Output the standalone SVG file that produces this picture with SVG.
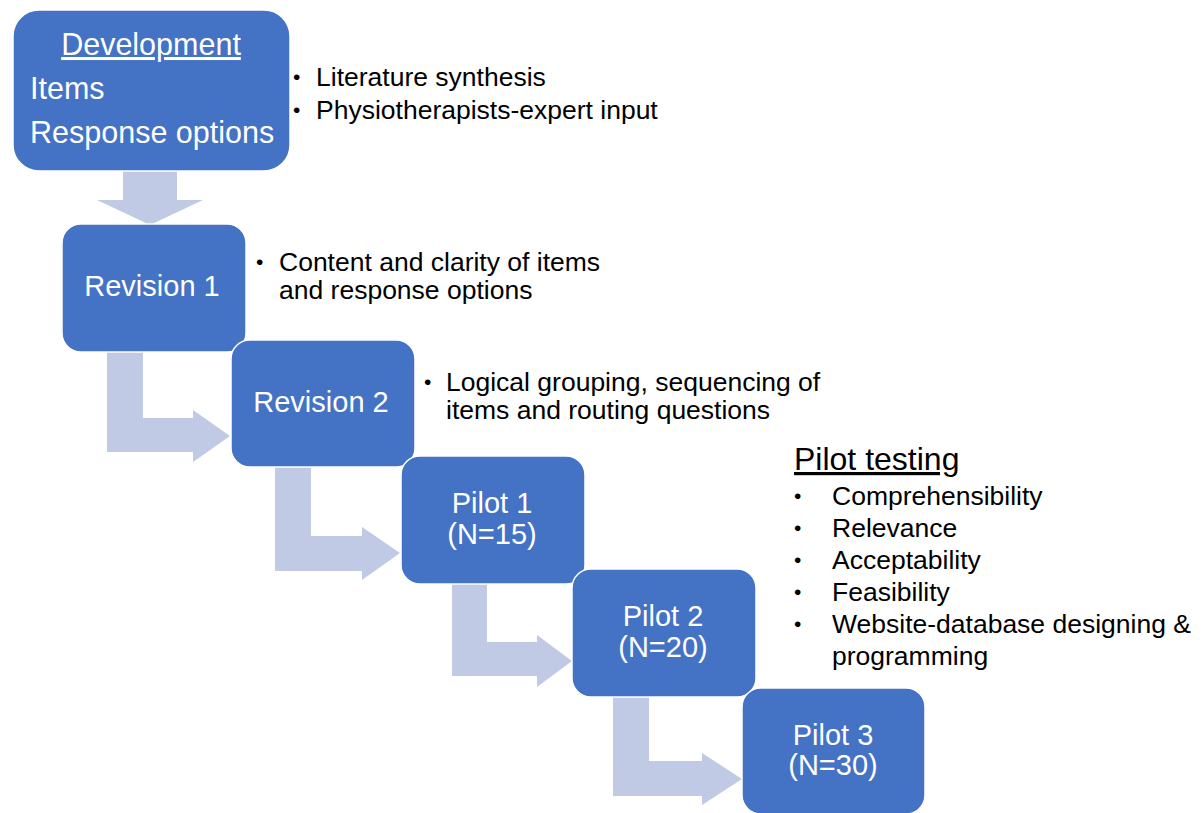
<svg xmlns="http://www.w3.org/2000/svg" width="1203" height="813" viewBox="0 0 1203 813">
<style>
.box{fill:#4472C4;stroke:#FFFFFF;stroke-width:1.5}
.arr{fill:#C0CAE4;stroke:none}
.bt{font-family:"Liberation Sans",Arial,sans-serif;font-size:29px;fill:#FFFFFF}
.dv{font-size:30.5px}
.c{text-anchor:middle}
.nt{font-family:"Liberation Sans",Arial,sans-serif;font-size:26.5px;fill:#000000}
.bu{font-family:"Liberation Sans",Arial,sans-serif;font-size:21px;fill:#000000}
.hd{font-family:"Liberation Sans",Arial,sans-serif;font-size:32px;fill:#000000;text-decoration:underline}
</style>
<rect width="1203" height="813" fill="#FFFFFF"/>
<g id="connectors">
<polygon class="arr" points="123,165 177,165 177,200 203,200 150,225 97,200 123,200"/>
<polygon class="arr" points="107,345 143,345 143,418 193,418 193,410 230,436 193,462 193,452 107,452"/>
<polygon class="arr" points="275,460 311,460 311,536 362,536 362,527 400,553 362,580 362,571 275,571"/>
<polygon class="arr" points="452,578 487,578 487,642 537,642 537,635 572,661 537,687 537,676 452,676"/>
<polygon class="arr" points="613,692 649,692 649,761 702,761 702,753 742,779 702,805 702,796 613,796"/>
</g>
<g id="development">
<rect class="box" x="13" y="10" width="277" height="161" rx="26"/>
<text class="bt dv c" x="151" y="55" style="text-decoration:underline">Development</text>
<text class="bt dv" x="30" y="99">Items</text>
<text class="bt dv" x="30" y="143">Response options</text>
</g>
<g id="development-notes">
<text class="bu" x="293" y="84">•</text>
<text class="nt" x="316" y="86">Literature synthesis</text>
<text class="bu" x="293" y="117">•</text>
<text class="nt" x="316" y="119">Physiotherapists-expert input</text>
</g>
<g id="revision1">
<rect class="box" x="62" y="224" width="184" height="128" rx="19"/>
<text class="bt c" x="152" y="296">Revision 1</text>
</g>
<g id="revision1-notes">
<text class="bu" x="256" y="269">•</text>
<text class="nt" x="279" y="271">Content and clarity of items</text>
<text class="nt" x="279" y="299">and response options</text>
</g>
<g id="revision2">
<rect class="box" x="231" y="340" width="184" height="127" rx="19"/>
<text class="bt c" x="321" y="412">Revision 2</text>
</g>
<g id="revision2-notes">
<text class="bu" x="424" y="389">•</text>
<text class="nt" x="446" y="391">Logical grouping, sequencing of</text>
<text class="nt" x="446" y="419">items and routing questions</text>
</g>
<g id="pilot1">
<rect class="box" x="401" y="456" width="184" height="128" rx="19"/>
<text class="bt c" x="492" y="513">Pilot 1</text>
<text class="bt c" x="492" y="544">(N=15)</text>
</g>
<g id="pilot2">
<rect class="box" x="572" y="569" width="184" height="128" rx="19"/>
<text class="bt c" x="663" y="626">Pilot 2</text>
<text class="bt c" x="663" y="657">(N=20)</text>
</g>
<g id="pilot3">
<rect class="box" x="742" y="688" width="183" height="126" rx="19"/>
<text class="bt c" x="833" y="745">Pilot 3</text>
<text class="bt c" x="833" y="775">(N=30)</text>
</g>
<g id="pilot-testing-notes">
<text class="hd" x="794" y="470">Pilot testing</text>
<text class="bu" x="794" y="503">•</text>
<text class="nt" x="832" y="505">Comprehensibility</text>
<text class="bu" x="794" y="535">•</text>
<text class="nt" x="832" y="537">Relevance</text>
<text class="bu" x="794" y="567">•</text>
<text class="nt" x="832" y="569">Acceptability</text>
<text class="bu" x="794" y="599">•</text>
<text class="nt" x="832" y="601">Feasibility</text>
<text class="bu" x="794" y="631">•</text>
<text class="nt" x="832" y="633">Website-database designing &amp;</text>
<text class="nt" x="832" y="665">programming</text>
</g>
</svg>
